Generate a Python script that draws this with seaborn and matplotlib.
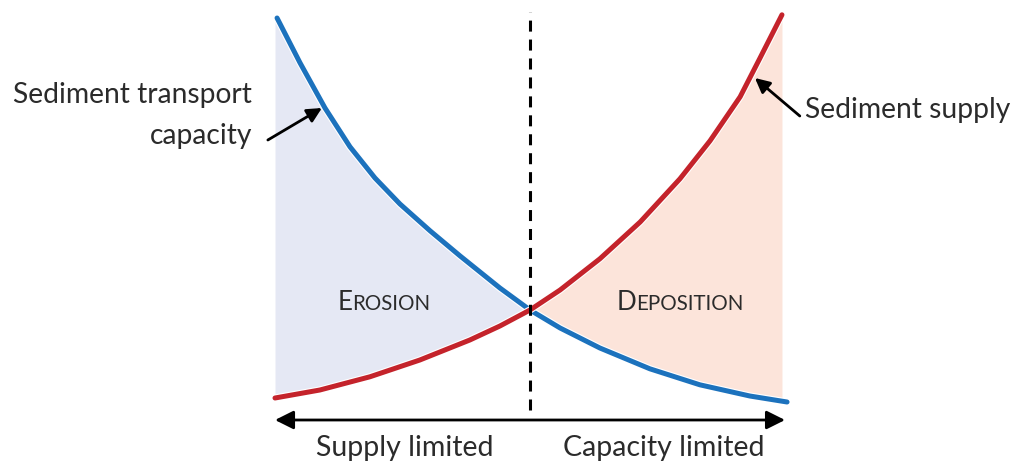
import numpy as np
import matplotlib
matplotlib.use('Agg')
import matplotlib.pyplot as plt
import matplotlib.patheffects as pe
import matplotlib.transforms as mtransforms
import seaborn as sns

# curves (x: 0..10 across the diagram, y: relative level)
capacity_x = [0.04, 0.49, 0.98, 1.47, 1.96, 2.45, 3.04, 3.63, 4.41, 5.00, 5.59, 6.37, 7.35, 8.33, 9.31, 10.04]
capacity_y = [9.80, 8.68, 7.55, 6.58, 5.80, 5.15, 4.48, 3.85, 3.05, 2.50, 2.05, 1.55, 1.03, 0.63, 0.35, 0.20]

supply_x = [0.00, 0.88, 1.86, 2.84, 3.82, 4.41, 5.00, 5.59, 6.37, 7.16, 7.94, 8.53, 9.12, 9.51, 9.94]
supply_y = [0.30, 0.50, 0.83, 1.25, 1.75, 2.10, 2.50, 3.00, 3.78, 4.70, 5.78, 6.73, 7.83, 8.80, 9.88]

threshold_x = 5.0
regions = ['Erosion', 'Deposition']
axis_labels = ['Supply limited', 'Capacity limited']
curve_labels = ['Sediment transport', 'capacity', 'Sediment supply']

BLUE = '#1C72BD'
RED = '#C4232B'
BLUE_FILL = '#E5E8F4'
RED_FILL = '#FCE4DA'
TXT = '#2b2b2b'

sns.set_theme(style='white')
plt.rcParams['font.family'] = ['Lato', 'DejaVu Sans']

fig = plt.figure(figsize=(10.13, 4.63), dpi=100)
ax = fig.add_axes([0, 0, 1, 1])
ax.set_xlim(-5.392, 14.47)
ax.set_ylim(-1.325, 10.25)
ax.axis('off')

# shaded regions between the two curves
xs = np.linspace(0, supply_x[-1], 800)
cap_i = np.interp(xs, capacity_x, capacity_y)
sup_i = np.interp(xs, supply_x, supply_y)
ax.fill_between(xs, sup_i, cap_i, where=cap_i >= sup_i, interpolate=True,
                color=BLUE_FILL, lw=0, zorder=1)
ax.fill_between(xs, cap_i, sup_i, where=sup_i >= cap_i, interpolate=True,
                color=RED_FILL, lw=0, zorder=1)

outline = [pe.Stroke(linewidth=5.2, foreground='white'), pe.Normal()]
sns.lineplot(x=capacity_x, y=capacity_y, ax=ax, color=BLUE, lw=3.6, zorder=3,
             path_effects=outline, solid_joinstyle='round')
sns.lineplot(x=supply_x, y=supply_y, ax=ax, color=RED, lw=3.6, zorder=3,
             path_effects=outline, solid_joinstyle='round')

# threshold
ax.plot([threshold_x, threshold_x], [0, 9.95], color='black', lw=2.2,
        linestyle=(0, (3.6, 2.6)), zorder=4)

# bottom double arrow
ax.annotate('', xy=(10, -0.25), xytext=(0, -0.25),
            arrowprops=dict(arrowstyle='<|-|>', mutation_scale=28, lw=2,
                            color='black', shrinkA=0, shrinkB=0), zorder=4)

ax.text(2.55, -1.15, axis_labels[0], ha='center', va='baseline', fontsize=20.5, color=TXT)
ax.text(7.63, -1.15, axis_labels[1], ha='center', va='baseline', fontsize=20.5, color=TXT)

# curve labels with arrows
ax.text(-0.45, 7.68, curve_labels[0], ha='right', va='baseline', fontsize=20.3, color=TXT)
ax.text(-0.45, 6.66, curve_labels[1], ha='right', va='baseline', fontsize=20.3, color=TXT)
ax.annotate('', xy=(0.92, 7.55), xytext=(-0.14, 6.75),
            arrowprops=dict(arrowstyle='-|>', mutation_scale=22, lw=2,
                            color='black', shrinkA=0, shrinkB=0), zorder=5)

ax.text(10.39, 7.3, curve_labels[2], ha='left', va='baseline', fontsize=20.3, color=TXT)
ax.annotate('', xy=(9.41, 8.3), xytext=(10.29, 7.35),
            arrowprops=dict(arrowstyle='-|>', mutation_scale=22, lw=2,
                            color='black', shrinkA=0, shrinkB=0), zorder=5)

# small caps region names
fig.canvas.draw()
renderer = fig.canvas.get_renderer()
for name, x0 in zip(regions, [1.22, 6.70]):
    first = ax.text(x0, 2.5, name[0].upper(), ha='left', va='baseline',
                    fontsize=18.6, color=TXT, zorder=5)
    w = first.get_window_extent(renderer).width
    tr = mtransforms.offset_copy(ax.transData, fig=fig, x=w * 72 / fig.dpi, y=0, units='points')
    ax.text(x0, 2.5, name[1:].upper(), ha='left', va='baseline', fontsize=14.8,
            color=TXT, transform=tr, zorder=5)

plt.savefig('out.png', dpi=100)
